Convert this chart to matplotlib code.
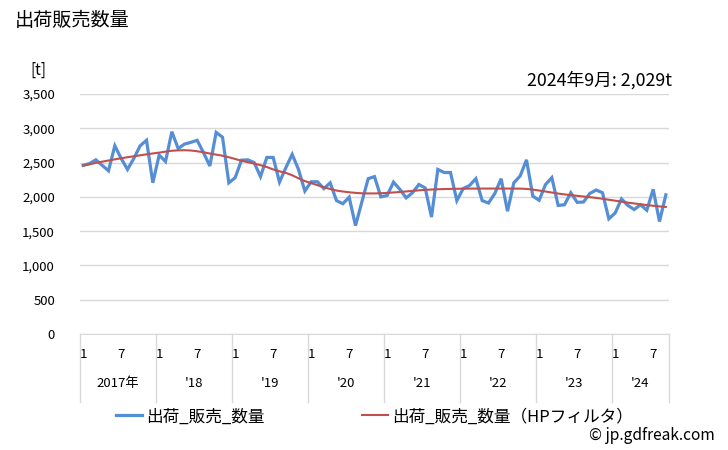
import matplotlib
matplotlib.use('Agg')
import matplotlib.pyplot as plt
import matplotlib.transforms as mtransforms
from matplotlib.ticker import FuncFormatter

plt.rcParams['font.family'] = ['Noto Sans CJK JP', 'DejaVu Sans']

# monthly shipments, 2017-01 .. 2024-09 [t]
sales = [
    2460, 2485, 2540, 2460, 2380, 2745, 2560, 2400, 2560, 2745, 2825, 2205,
    2610, 2515, 2950, 2705, 2770, 2795, 2825, 2645, 2450, 2940, 2870, 2205,
    2280, 2535, 2540, 2500, 2295, 2575, 2575, 2215, 2425, 2620, 2400, 2085,
    2220, 2220, 2120, 2205, 1945, 1900, 1995, 1580, 1925, 2265, 2295, 2000,
    2020, 2215, 2110, 1985, 2060, 2180, 2130, 1705, 2400, 2355, 2355, 1945,
    2120, 2165, 2265, 1945, 1910, 2050, 2265, 1790, 2205, 2305, 2540, 2010,
    1950, 2180, 2280, 1875, 1885, 2060, 1920, 1925, 2050, 2100, 2060, 1680,
    1765, 1970, 1875, 1815, 1885, 1805, 2110, 1640, 2029,
]
# HP filter trend
trend = [
    2455, 2475, 2495, 2513, 2530, 2547, 2563, 2578, 2592, 2606, 2620, 2633,
    2645, 2660, 2672, 2678, 2680, 2676, 2665, 2650, 2632, 2616, 2600, 2578,
    2552, 2527, 2505, 2485, 2462, 2435, 2400, 2372, 2350, 2315, 2270, 2230,
    2200, 2170, 2140, 2115, 2092, 2078, 2067, 2058, 2052, 2050, 2050, 2053,
    2058, 2064, 2071, 2079, 2087, 2095, 2102, 2107, 2111, 2114, 2116, 2118,
    2119, 2120, 2121, 2121, 2121, 2121, 2121, 2121, 2121, 2120, 2116, 2106,
    2092, 2078, 2063, 2048, 2036, 2025, 2015, 2005, 1995, 1985, 1972, 1958,
    1944, 1930, 1916, 1904, 1892, 1880, 1870, 1861, 1853,
]
years = ['2017年', "'18", "'19", "'20", "'21", "'22", "'23", "'24"]
month_labels = {0: '1', 6: '7'}

n = len(sales)
x = [i + 0.5 for i in range(n)]

fig = plt.figure(figsize=(7.28, 4.5), dpi=100)
ax = fig.add_axes([80 / 728, 1 - 334 / 450, 589 / 728, 240 / 450])

ax.plot(x, sales, color='#558ED5', lw=2.3, label='出荷_販売_数量', solid_joinstyle='miter')
ax.plot(x, trend, color='#C0504D', lw=1.5, label='出荷_販売_数量（HPフィルタ）')

ax.set_xlim(0, n)
ax.set_ylim(0, 3500)
ax.set_yticks(range(0, 3501, 500))
ax.yaxis.set_major_formatter(FuncFormatter(lambda v, p: f'{int(v):,}'))
ax.tick_params(axis='y', length=0, labelsize=9.5, pad=18)
ax.set_xticks([])
ax.grid(axis='y', color='#D9D9D9', lw=1)
ax.set_axisbelow(True)
for s in ['top', 'right', 'left']:
    ax.spines[s].set_visible(False)
ax.spines['bottom'].set_color('#D9D9D9')

# two level category axis
trans = mtransforms.blended_transform_factory(ax.transData, ax.transAxes)
for k in range(len(years) + 1):
    xb = min(k * 12, n)
    ax.plot([xb, xb], [0, -0.285], transform=trans, color='#D9D9D9', lw=1, clip_on=False)
for i in range(n):
    if i % 12 in month_labels:
        ax.text(i + 0.5, -0.085, month_labels[i % 12], transform=trans,
                ha='center', va='center', fontsize=9.5)
for k, yl in enumerate(years):
    x0 = k * 12
    x1 = min(x0 + 12, n)
    ax.text((x0 + x1) / 2, -0.205, yl, transform=trans, ha='center', va='center', fontsize=9.5)

fig.text(15 / 728, 1 - 20 / 450, '出荷販売数量', fontsize=13.8, va='center', ha='left')
fig.text(38 / 728, 1 - 70 / 450, '[t]', fontsize=11, va='center', ha='center')
fig.text(672 / 728, 1 - 80 / 450, '2024年9月: 2,029t', fontsize=12.8, va='center', ha='right')
fig.text(715 / 728, 1 - 436 / 450, '© jp.gdfreak.com', fontsize=11.2, va='center', ha='right')

ax.legend(loc='center', bbox_to_anchor=(0.5, -0.345), ncol=2, frameon=False,
          fontsize=12, handlelength=1.6, columnspacing=5.8, handletextpad=0.25)

fig.savefig('out.png', dpi=100)
